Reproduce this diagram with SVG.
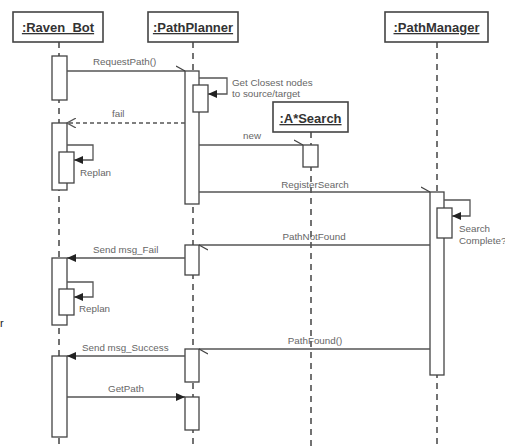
<svg xmlns="http://www.w3.org/2000/svg" width="505" height="447" viewBox="0 0 505 447">
<defs>
<style>
.box{fill:#fff;stroke:#444;stroke-width:1.6}
.title{font-family:"Liberation Sans",Arial,sans-serif;font-weight:bold;font-size:13px;fill:#333;text-decoration:underline;text-anchor:middle}
.life{stroke:#444;stroke-width:1.5;stroke-dasharray:6 5;fill:none}
.act{fill:#fff;stroke:#444;stroke-width:1.3}
.msg{stroke:#555;stroke-width:1.3;fill:none}
.dash{stroke:#555;stroke-width:1.3;fill:none;stroke-dasharray:4 3}
.lbl{font-family:"Liberation Sans",Arial,sans-serif;font-size:9.8px;fill:#666}
.lblm{font-family:"Liberation Sans",Arial,sans-serif;font-size:9.8px;fill:#666;text-anchor:middle}
</style>
<marker id="fill" markerWidth="10" markerHeight="8" refX="9" refY="4" orient="auto" markerUnits="userSpaceOnUse">
<path d="M0,0 L9,4 L0,8 Z" fill="#222"/>
</marker>
<marker id="open" markerWidth="10" markerHeight="10" refX="9" refY="5" orient="auto" markerUnits="userSpaceOnUse">
<path d="M0,0 L9,5 L0,10" fill="none" stroke="#555" stroke-width="1.2"/>
</marker>
<marker id="half" markerWidth="10" markerHeight="8" refX="9" refY="6" orient="auto" markerUnits="userSpaceOnUse">
<path d="M0,1 L9,6" fill="none" stroke="#444" stroke-width="1.2"/>
</marker>
</defs>
<rect width="505" height="447" fill="#fff"/>

<g id="connectors">
<line class="life" x1="59" y1="42" x2="59" y2="447"/>
<line class="life" x1="193" y1="42" x2="193" y2="447"/>
<line class="life" x1="311" y1="132" x2="311" y2="447"/>
<line class="life" x1="437" y1="42" x2="437" y2="447"/>
</g>

<g id="raven_bot">
<rect class="box" x="13" y="12" width="90" height="30"/>
<text class="title" x="58" y="32">:Raven_Bot</text>
<rect class="act" x="52" y="56" width="15" height="44"/>
<rect class="act" x="52" y="123" width="15" height="67"/>
<rect class="act" x="59" y="152" width="15" height="31"/>
<rect class="act" x="52" y="258" width="15" height="67"/>
<rect class="act" x="59" y="289" width="15" height="26"/>
<rect class="act" x="52" y="356" width="15" height="81"/>
</g>

<g id="pathplanner">
<rect class="box" x="148" y="12" width="90" height="30"/>
<text class="title" x="193" y="32">:PathPlanner</text>
<rect class="act" x="185" y="71" width="14" height="133"/>
<rect class="act" x="193" y="85" width="15" height="27"/>
<rect class="act" x="185" y="245" width="14" height="30"/>
<rect class="act" x="185" y="349" width="14" height="33"/>
<rect class="act" x="185" y="397" width="14" height="33"/>
</g>

<g id="asearch">
<rect class="box" x="273" y="102" width="75" height="30"/>
<text class="title" x="310.5" y="123">:A*Search</text>
<rect class="act" x="303" y="145" width="15" height="22"/>
</g>

<g id="pathmanager">
<rect class="box" x="385" y="12" width="103" height="30"/>
<text class="title" x="436.5" y="32">:PathManager</text>
<rect class="act" x="430" y="192" width="14" height="183"/>
<rect class="act" x="437" y="208" width="15" height="30"/>
</g>

<g id="messages">
<line class="msg" x1="67" y1="71" x2="185" y2="71" marker-end="url(#half)"/>
<text class="lbl" x="93" y="65">RequestPath()</text>

<polyline class="msg" points="199,78 227,78 227,94 208,94" marker-end="url(#fill)"/>
<text class="lbl" x="232" y="86">Get Closest nodes</text>
<text class="lbl" x="232" y="97">to source/target</text>

<line class="dash" x1="185" y1="123" x2="67" y2="123" marker-end="url(#open)"/>
<text class="lbl" x="112" y="117">fail</text>

<polyline class="msg" points="67,145 93,145 93,160 74,160" marker-end="url(#fill)"/>
<text class="lbl" x="80" y="176">Replan</text>

<line class="msg" x1="199" y1="145" x2="303" y2="145" marker-end="url(#half)"/>
<text class="lbl" x="243" y="139">new</text>

<line class="msg" x1="199" y1="192" x2="430" y2="192" marker-end="url(#half)"/>
<text class="lblm" x="315" y="188">RegisterSearch</text>

<polyline class="msg" points="444,200 470,200 470,216 452,216" marker-end="url(#fill)"/>
<text class="lbl" x="459" y="232">Search</text>
<text class="lbl" x="459" y="244">Complete?</text>

<line class="msg" x1="430" y1="245" x2="199" y2="245" marker-end="url(#half)"/>
<text class="lblm" x="314" y="240">PathNotFound</text>

<line class="msg" x1="185" y1="258" x2="67" y2="258" marker-end="url(#fill)"/>
<text class="lbl" x="93" y="253">Send msg_Fail</text>

<polyline class="msg" points="67,282 93,282 93,297 74,297" marker-end="url(#fill)"/>
<text class="lbl" x="79" y="312">Replan</text>

<line class="msg" x1="430" y1="349" x2="199" y2="349" marker-end="url(#half)"/>
<text class="lblm" x="315" y="344">PathFound()</text>

<line class="msg" x1="185" y1="356" x2="67" y2="356" marker-end="url(#fill)"/>
<text class="lbl" x="82" y="351">Send msg_Success</text>

<line class="msg" x1="67" y1="397" x2="185" y2="397" marker-end="url(#fill)"/>
<text class="lblm" x="126" y="392">GetPath</text>
</g>

<text x="0" y="327" style="font-family:'Liberation Sans',Arial,sans-serif;font-size:11px;fill:#222">r</text>
</svg>
